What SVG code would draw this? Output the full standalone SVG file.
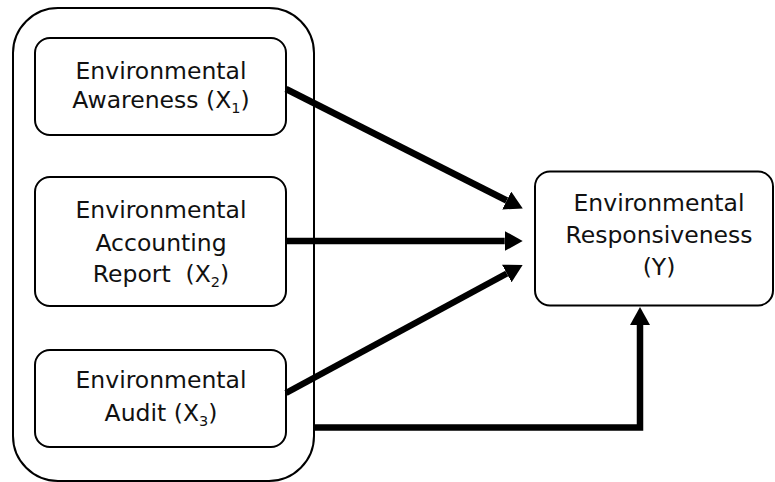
<svg xmlns="http://www.w3.org/2000/svg" width="775" height="482" viewBox="0 0 775 482">
<style>
.box{fill:#fff;stroke:#000;stroke-width:2}
.outer{fill:none;stroke:#000;stroke-width:2}
.t{font-family:"DejaVu Sans",Verdana,sans-serif;font-size:23.5px;fill:#111;text-anchor:middle}
.sub{font-size:14.5px}
.conn{fill:none;stroke:#000;stroke-width:6.5;stroke-linejoin:miter}
</style>
<defs>
<marker id="ah" viewBox="0 0 18 20" refX="0" refY="10" markerWidth="18" markerHeight="20" markerUnits="userSpaceOnUse" orient="auto">
<path d="M0,0 L18,10 L0,20 z" fill="#000"/>
</marker>
</defs>
<rect id="group" class="outer" x="13" y="8" width="301" height="473" rx="45" ry="45"/>
<g id="x1">
<rect class="box" x="35" y="38" width="251" height="97" rx="15" ry="15"/>
<text class="t" x="161" y="79">Environmental</text>
<text class="t" x="161" y="108">Awareness (X<tspan class="sub" dy="5">1</tspan><tspan dy="-5">)</tspan></text>
</g>
<g id="x2">
<rect class="box" x="35" y="177" width="251" height="129" rx="15" ry="15"/>
<text class="t" x="161" y="218">Environmental</text>
<text class="t" x="161" y="251">Accounting</text>
<text class="t" x="161" y="282">Report&#160; (X<tspan class="sub" dy="5">2</tspan><tspan dy="-5">)</tspan></text>
</g>
<g id="x3">
<rect class="box" x="35" y="350" width="251" height="97" rx="15" ry="15"/>
<text class="t" x="161" y="388">Environmental</text>
<text class="t" x="161" y="421">Audit (X<tspan class="sub" dy="5">3</tspan><tspan dy="-5">)</tspan></text>
</g>
<g id="y">
<rect class="box" x="535" y="171.5" width="238" height="134" rx="15" ry="15"/>
<text class="t" x="659" y="211">Environmental</text>
<text class="t" x="659" y="243">Responsiveness</text>
<text class="t" x="659" y="275">(Y)</text>
</g>
<g id="connectors">
<path class="conn" d="M286,89 L506.7,200.5" marker-end="url(#ah)"/>
<path class="conn" d="M286,241 L504.7,241" marker-end="url(#ah)"/>
<path class="conn" d="M286,393 L506.8,273.5" marker-end="url(#ah)"/>
<path class="conn" d="M314,427.5 H640 V325" marker-end="url(#ah)"/>
</g>
</svg>
